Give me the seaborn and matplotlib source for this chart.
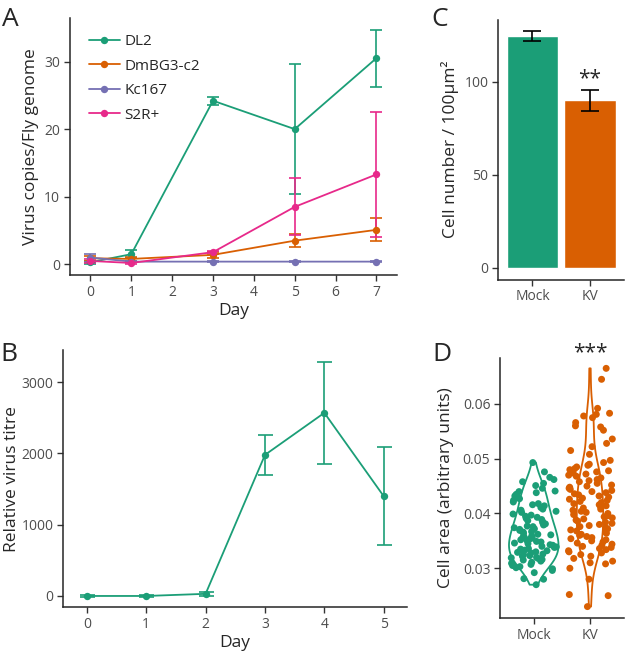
import numpy as np
import pandas as pd
import seaborn as sns
import matplotlib.pyplot as plt

# Panel A: virus copies per fly genome
days_a = [0, 1, 3, 5, 7]
cell_lines = ['DL2', 'DmBG3-c2', 'Kc167', 'S2R+']
dl2_mean = [0.3, 1.5, 24.2, 20.0, 30.5]
dl2_err = [0.2, 0.6, 0.6, 9.6, 4.2]
dmbg3_mean = [0.9, 0.8, 1.4, 3.5, 5.1]
dmbg3_err = [0.4, 0.3, 0.4, 1.0, 1.7]
kc167_mean = [1.0, 0.4, 0.4, 0.4, 0.4]
kc167_err = [0.6, 0.1, 0.1, 0.1, 0.1]
s2r_mean = [0.5, 0.2, 1.8, 8.5, 13.3]
s2r_err = [0.3, 0.1, 0.2, 4.2, 9.2]

# Panel B: relative virus titre (DL2)
days_b = [0, 1, 2, 3, 4, 5]
titre_mean = [0, 0, 30, 1980, 2570, 1400]
titre_err = [10, 10, 30, 280, 720, 690]

# Panel C: cell number
groups = ['Mock', 'KV']
cell_num = [124.7, 90.0]
cell_num_err = [2.7, 5.6]

# Panel D: cell area
mock_area = [0.0270, 0.0280, 0.0281, 0.0292, 0.0296, 0.0299,
             0.0301, 0.0303, 0.0305, 0.0307, 0.0309,
             0.0311, 0.0313, 0.0315, 0.0316, 0.0318, 0.0319,
             0.0320, 0.0322, 0.0323, 0.0325, 0.0326, 0.0328, 0.0329,
             0.0330, 0.0332, 0.0333, 0.0335, 0.0336, 0.0338, 0.0339,
             0.0340, 0.0342, 0.0343, 0.0345, 0.0346, 0.0348, 0.0349,
             0.0350, 0.0352, 0.0353, 0.0355, 0.0356, 0.0358, 0.0359,
             0.0361, 0.0362, 0.0364, 0.0366, 0.0367, 0.0369,
             0.0371, 0.0372, 0.0374, 0.0376, 0.0377, 0.0379,
             0.0381, 0.0383, 0.0385, 0.0387, 0.0389,
             0.0391, 0.0393, 0.0395, 0.0397, 0.0399,
             0.0402, 0.0404, 0.0406, 0.0408,
             0.0411, 0.0414, 0.0416, 0.0418,
             0.0421, 0.0424, 0.0427, 0.0429,
             0.0432, 0.0435, 0.0438,
             0.0440, 0.0441, 0.0446,
             0.0451, 0.0455, 0.0458,
             0.0462, 0.0466, 0.0476, 0.0493]
kv_area = [0.0665, 0.0645, 0.0592, 0.0583, 0.0581, 0.0578, 0.0575, 0.0566, 0.0560, 0.0558,
           0.0552, 0.0536, 0.0528, 0.0522, 0.0515, 0.0508, 0.0497, 0.0493, 0.0490, 0.0488,
           0.0485, 0.0482, 0.0480, 0.0478, 0.0476, 0.0474, 0.0472, 0.0470, 0.0468, 0.0465,
           0.0462, 0.0460, 0.0458, 0.0455, 0.0452, 0.0450, 0.0448, 0.0446, 0.0444, 0.0442,
           0.0440, 0.0438, 0.0436, 0.0434, 0.0432, 0.0430, 0.0428, 0.0426, 0.0424, 0.0422,
           0.0420, 0.0418, 0.0416, 0.0414, 0.0412, 0.0410, 0.0408, 0.0406, 0.0404, 0.0402,
           0.0400, 0.0398, 0.0396, 0.0394, 0.0392, 0.0390, 0.0388, 0.0386, 0.0384, 0.0382,
           0.0380, 0.0378, 0.0376, 0.0374, 0.0372, 0.0370, 0.0368, 0.0366, 0.0364, 0.0362,
           0.0360, 0.0358, 0.0356, 0.0354, 0.0352, 0.0350, 0.0348, 0.0346, 0.0344, 0.0342,
           0.0340, 0.0338, 0.0336, 0.0334, 0.0332, 0.0330, 0.0328, 0.0325, 0.0322, 0.0318,
           0.0313, 0.0310, 0.0308, 0.0300, 0.0280, 0.0252, 0.0250, 0.0230]

palette = ['#1B9E77', '#D95F02', '#7570B3', '#E7298A']

sns.set_theme(style='ticks')
plt.rcParams['font.family'] = ['Open Sans', 'DejaVu Sans']
plt.rcParams['axes.linewidth'] = 1.1
plt.rcParams['xtick.color'] = '#333333'
plt.rcParams['ytick.color'] = '#333333'
plt.rcParams['xtick.labelcolor'] = '#4D4D4D'
plt.rcParams['ytick.labelcolor'] = '#4D4D4D'
plt.rcParams['xtick.labelsize'] = 10
plt.rcParams['ytick.labelsize'] = 10
plt.rcParams['axes.labelsize'] = 12.5

fig = plt.figure(figsize=(6.25, 6.52), dpi=100)
ax_a = fig.add_axes([0.112, 0.578, 0.523, 0.394])
ax_b = fig.add_axes([0.101, 0.069, 0.550, 0.394])
ax_c = fig.add_axes([0.797, 0.571, 0.2016, 0.399])
ax_d = fig.add_axes([0.800, 0.052, 0.198, 0.399])

# ---- A ----
df_a = pd.DataFrame({
    'Day': days_a * 4,
    'Line': [c for c in cell_lines for _ in days_a],
    'mean': dl2_mean + dmbg3_mean + kc167_mean + s2r_mean,
    'err': dl2_err + dmbg3_err + kc167_err + s2r_err,
})
for line, col in zip(cell_lines, palette):
    sub = df_a[df_a['Line'] == line]
    ax_a.errorbar(sub['Day'], sub['mean'], yerr=sub['err'], fmt='none',
                  ecolor=col, elinewidth=1.2, capsize=4.3, capthick=1.2)
sns.lineplot(data=df_a, x='Day', y='mean', hue='Line', palette=palette,
             marker='o', markersize=5.3, markeredgewidth=0, linewidth=1.3,
             ax=ax_a)
ax_a.set_xlim(-0.5, 7.5)
ax_a.set_ylim(-1.6, 36.4)
ax_a.set_xticks(range(8))
ax_a.set_yticks([0, 10, 20, 30])
ax_a.set_xlabel('Day', labelpad=2)
ax_a.set_ylabel('Virus copies/Fly genome', labelpad=4)
leg = ax_a.legend(loc='upper left', bbox_to_anchor=(0.04, 0.962), frameon=False,
                  fontsize=11, handlelength=2.0, labelspacing=0.62,
                  handletextpad=0.3, borderaxespad=0)

# ---- B ----
df_b = pd.DataFrame({'Day': days_b, 'mean': titre_mean, 'err': titre_err})
ax_b.errorbar(df_b['Day'], df_b['mean'], yerr=df_b['err'], fmt='none',
              ecolor=palette[0], elinewidth=1.2, capsize=5.4, capthick=1.2)
sns.lineplot(data=df_b, x='Day', y='mean', color=palette[0], marker='o',
             markersize=5.3, markeredgewidth=0, linewidth=1.3, ax=ax_b)
ax_b.set_xlim(-0.4, 5.39)
ax_b.set_ylim(-155, 3450)
ax_b.set_xticks(range(6))
ax_b.set_yticks([0, 1000, 2000, 3000])
ax_b.set_xlabel('Day', labelpad=2)
ax_b.set_ylabel('Relative virus titre', labelpad=1)

# ---- C ----
df_c = pd.DataFrame({'group': groups, 'n': cell_num, 'err': cell_num_err})
sns.barplot(data=df_c, x='group', y='n', hue='group', palette=palette[:2],
            width=0.9, saturation=1, legend=False, ax=ax_c)
ax_c.errorbar([0, 1], df_c['n'], yerr=df_c['err'], fmt='none', ecolor='black',
              elinewidth=1.2, capsize=6.5, capthick=1.2)
ax_c.text(1, 101.5, '**', ha='center', va='center', fontsize=15)
ax_c.set_xlim(-0.6, 1.6)
ax_c.set_ylim(-6.4, 133.5)
ax_c.set_yticks([0, 50, 100])
ax_c.set_xlabel('')
ax_c.set_ylabel('Cell number / 100µm²', labelpad=4)

# ---- D ----
df_d = pd.DataFrame({
    'group': ['Mock'] * len(mock_area) + ['KV'] * len(kv_area),
    'area': mock_area + kv_area,
})
np.random.seed(3)
sns.stripplot(data=df_d, x='group', y='area', hue='group', order=groups,
              palette=palette[:2], jitter=0.42, size=5, linewidth=0,
              dodge=False, legend=False, ax=ax_d)
# violins on top of the points, each with its own width (area-scaled look)
for grp, vals, col, w in [('Mock', mock_area, palette[0], 0.88),
                          ('KV', kv_area, palette[1], 0.47)]:
    sns.violinplot(x=[grp] * len(vals), y=vals, order=groups, color=col,
                   fill=False, inner=None, cut=0, width=w, bw_adjust=0.9,
                   linewidth=1.3, density_norm='width', ax=ax_d)
ax_d.text(1, 0.0693, '***', ha='center', va='center', fontsize=15, clip_on=False)
ax_d.set_xlim(-0.6, 1.6)
ax_d.set_ylim(0.0209, 0.0684)
ax_d.set_yticks([0.03, 0.04, 0.05, 0.06])
ax_d.set_yticklabels(['0.03', '0.04', '0.05', '0.06'])
ax_d.set_xlabel('')
ax_d.set_ylabel('Cell area (arbitrary units)', labelpad=6)

for ax in [ax_a, ax_b, ax_c, ax_d]:
    sns.despine(ax=ax)
    ax.tick_params(length=4, width=1.0, pad=3)

for lbl, x, y in [('A', 0.003, 0.99), ('B', 0.0, 0.475), ('C', 0.69, 0.99), ('D', 0.692, 0.475)]:
    fig.text(x, y, lbl, fontsize=19, va='top', ha='left')

fig.savefig('out.png', dpi=100)
